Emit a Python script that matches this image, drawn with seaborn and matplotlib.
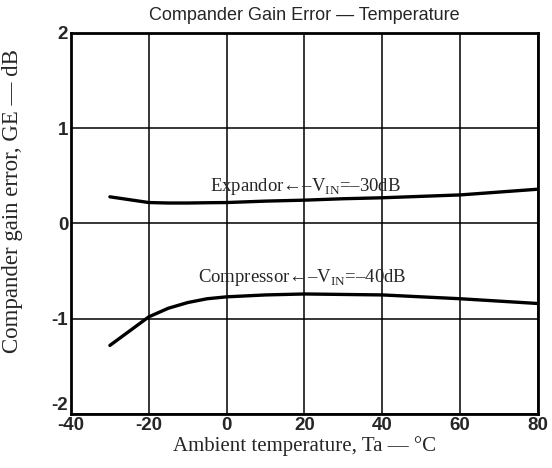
import numpy as np
import pandas as pd
import matplotlib
matplotlib.use("Agg")
import matplotlib.pyplot as plt
import seaborn as sns

# values
temps = [-30, -25, -20, -15, -10, -5, 0, 10, 20, 30, 40, 50, 60, 70, 80]
expandor = [0.28, 0.25, 0.22, 0.215, 0.215, 0.218, 0.22, 0.235, 0.245, 0.26, 0.27, 0.285, 0.30, 0.33, 0.36]
compressor = [-1.28, -1.13, -0.98, -0.89, -0.83, -0.79, -0.77, -0.75, -0.74, -0.745, -0.75, -0.77, -0.79, -0.815, -0.84]
x_ticks = [-40, -20, 0, 20, 40, 60, 80]
y_ticks = [-2, -1, 0, 1, 2]

df = pd.DataFrame({"temp": temps, "Expandor": expandor, "Compressor": compressor})

sns.set_theme(style="white")
plt.rcParams["mathtext.fontset"] = "custom"
plt.rcParams["mathtext.rm"] = "Liberation Serif"
plt.rcParams["axes.unicode_minus"] = False

fig = plt.figure(figsize=(5.52, 4.68), dpi=100)
ax = fig.add_axes([0.1286, 0.1154, 0.846, 0.8141])

sns.lineplot(data=df, x="temp", y="Expandor", color="black", linewidth=2.4, ax=ax)
sns.lineplot(data=df, x="temp", y="Compressor", color="black", linewidth=2.4, ax=ax)

ax.set_xlim(-40, 80)
ax.set_ylim(-2, 2)
ax.set_xticks(x_ticks)
ax.set_yticks(y_ticks)
ax.set_xticklabels([str(t) for t in x_ticks])
ax.set_yticklabels([str(t) for t in y_ticks])
ax.grid(True, color="black", linewidth=1.1)
for s in ax.spines.values():
    s.set_color("black")
    s.set_linewidth(2)
ax.tick_params(length=0, pad=2)
for lab in ax.get_xticklabels() + ax.get_yticklabels():
    lab.set_family(["Liberation Sans", "DejaVu Sans"])
    lab.set_fontweight("bold")
    lab.set_fontsize(13.5)
for lab in ax.get_yticklabels():
    if lab.get_text() == "-2":
        lab.set_va("bottom")

serif = ["Liberation Serif", "DejaVu Serif"]
ax.set_xlabel("Ambient temperature, Ta — °C", family=serif, fontsize=15, labelpad=2)
ax.set_ylabel("Compander gain error, GE — dB", family=serif, fontsize=16.5)
ax.yaxis.set_label_coords(-0.103, 0.56)
ax.set_title("Compander Gain Error — Temperature", family=["Liberation Sans", "DejaVu Sans"],
             fontsize=13, pad=9)

ax.text(-4.3, 0.39, "Expandor←–V$_{\\mathrm{IN}}$=–30dB", family=serif, fontsize=13.5,
        ha="left", va="center")
ax.text(-7.3, -0.57, "Compressor←–V$_{\\mathrm{IN}}$=–40dB", family=serif, fontsize=13.5,
        ha="left", va="center")

fig.savefig("out.png", dpi=100, facecolor="white")
